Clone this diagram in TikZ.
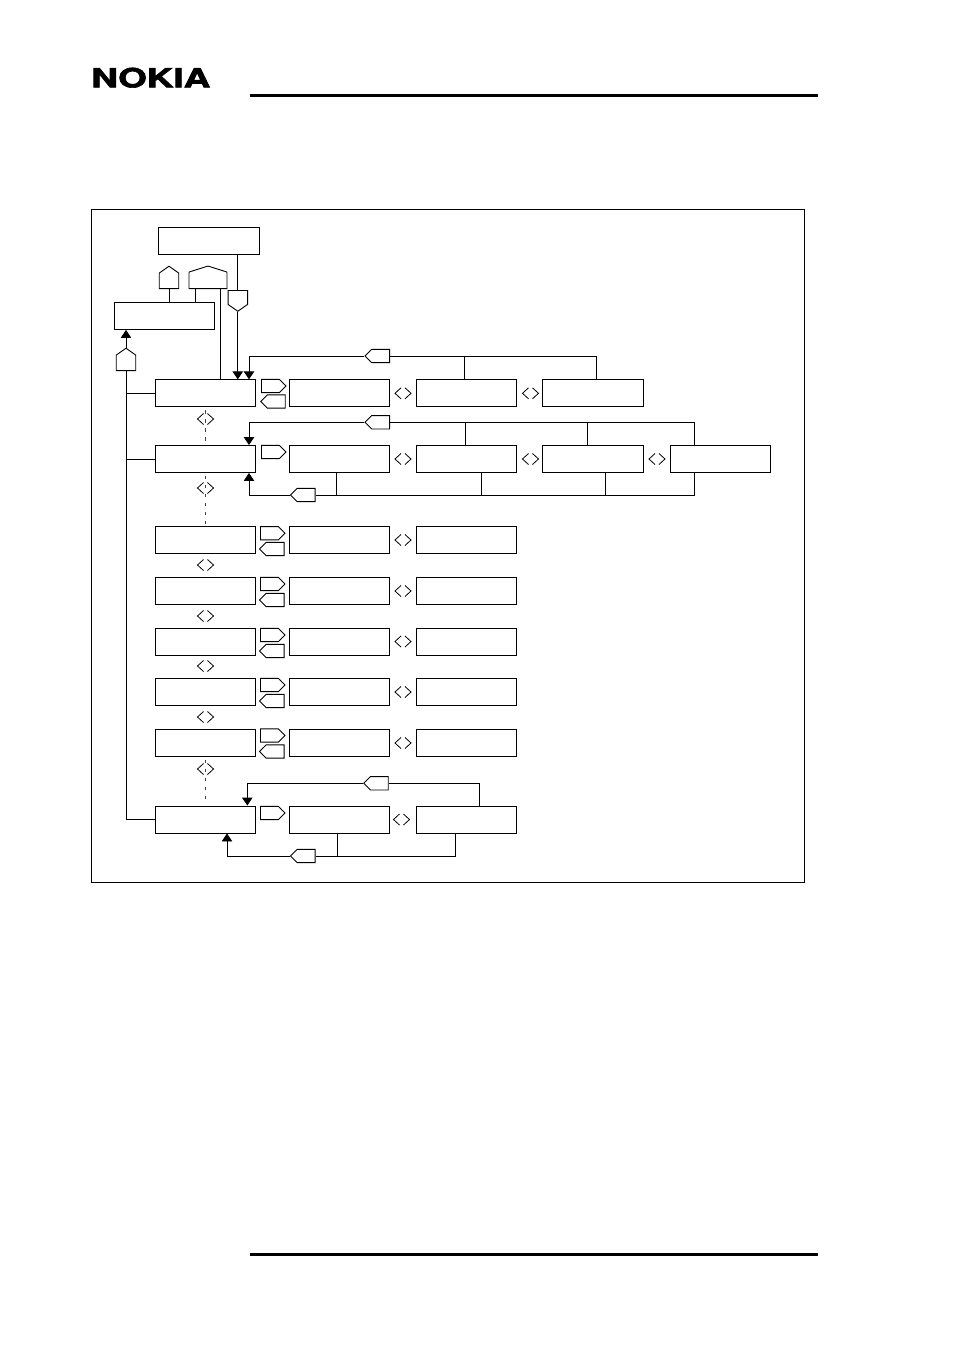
\documentclass[tikz,border=0pt]{standalone}
\usepackage{fontspec}
\newfontfamily\logofont[BoldFeatures={FakeBold=2.2}]{TeX Gyre Heros}
\usetikzlibrary{arrows.meta, shapes.symbols}
\tikzset{
    menubox/.style={draw, rectangle, inner sep=0pt, minimum width=100.7pt, minimum height=27pt},
    tagbox/.style={draw, signal, inner sep=0pt, signal pointer angle=90, minimum width=24.5pt, minimum height=13.3pt},
    uptag/.style={draw, signal, signal to=north, anchor=south, inner sep=0pt, signal pointer angle=110, minimum width=19.5pt, minimum height=15.5pt},
    hardrule/.style={line width=3pt},
    menuarrow/.style={-{Triangle[length=8pt,width=10.5pt]}},
    stepdash/.style={black!75, line width=1pt, dash pattern=on 3.5pt off 5.5pt, shorten <=3pt, shorten >=2pt},
    pics/swap/.style={code={
        \draw[line width=0.8pt] (-2,-5.5)--(-8,0)--(-2,5.5);
        \draw[line width=0.8pt] (2,-5.5)--(8,0)--(2,5.5);
    }}
}

\begin{document}
\begin{tikzpicture}[x=1pt, y=-1pt, every path/.style={line width=0.9pt}]
        \useasboundingbox (0,0) rectangle (954,1350);

        % ---------------- page furniture ----------------
        \node[font=\logofont\bfseries\fontsize{26.5}{26.5}\selectfont, xscale=1.39, inner sep=0pt] (logoText) at (150.8,77.7) {NOKIA};
        \coordinate (ruleTopL) at (250,95.5);
        \coordinate (ruleTopR) at (818,95.5);
        \coordinate (ruleBotL) at (250,1254);
        \coordinate (ruleBotR) at (818,1254);
        \draw[hardrule] (ruleTopL)--(ruleTopR);
        \draw[hardrule] (ruleBotL)--(ruleBotR);
        \draw (91.5,209.5) rectangle (804.5,882.5);

        % ---------------- boxes ----------------
        \node[menubox] (topBox) at (209,241) {};
        \node[menubox] (sideBox) at (164.5,316) {};
        \foreach \n/\y in {One/393.3,Two/459,Three/540,Four/591,Five/641.5,Six/692,Seven/743,Eight/819.5} {
            \node[menubox] (row\n Main) at (205.5,\y) {};
            \node[menubox] (row\n A) at (339.5,\y) {};
            \node[menubox] (row\n B) at (466.5,\y) {};
        }
        \node[menubox] (rowOneC) at (593,393.3) {};
        \node[menubox] (rowTwoC) at (593,459) {};
        \node[menubox] (rowTwoD) at (720.3,459) {};

        % Tags between main boxes and first submenu
        \foreach \n/\x/\y in {One/261/386,Two/261/452,Three/260/533.2,Four/260/584,Five/260/635,Six/260/685,Seven/260/735.5,Eight/260/813} {
            \node[tagbox, anchor=west] (in\n) at (\x,\y) {};
        }
        \foreach \n/\x/\y in {One/285.7/401.5,Three/284.5/549,Four/284.5/600,Five/284.5/651,Six/284.5/701,Seven/284.5/751.5} {
            \node[tagbox, signal to=west, anchor=east] (out\n) at (\x,\y) {};
        }

        % ---------------- top of the tree ----------------
        \node[uptag] (tagSide) at (169,289) {};
        \node[uptag, signal pointer angle=145, minimum width=38pt, minimum height=16.5pt] (tagWide) at (208,289) {};
        \node[uptag, signal to=south, anchor=north, minimum height=14pt] (tagDown) at (237.8,290) {};
        \node[uptag] (tagUp) at (126,371) {};
        \coordinate (dropSide) at (169,289);
        \coordinate (dropWide) at (195.5,289);
        \coordinate (dropReturn) at (220,289);
        \draw (tagSide.south)--(tagSide.south |- sideBox.north);
        \draw (dropWide)--(dropWide |- sideBox.north);
        \draw (dropReturn)--(dropReturn |- rowOneMain.north);
        \draw (tagDown.north |- topBox.south)--(tagDown.north);
        \draw[menuarrow] (tagDown.south)--(tagDown.south |- rowOneMain.north);
        \draw[menuarrow] (tagUp.north)--(tagUp.north |- sideBox.south);

        % Left trunk
        \draw (tagUp.south)--(tagUp.south |- rowEightMain.west)--(rowEightMain.west);
        \draw (tagUp.south |- rowOneMain.west)--(rowOneMain.west);
        \draw (tagUp.south |- rowTwoMain.west)--(rowTwoMain.west);

        % ---------------- row 1 return ----------------
        \node[tagbox, signal to=west, anchor=east] (backOne) at (390,356) {};
        \coordinate (cornerOne) at (249,356);
        \coordinate (joinOneB) at (464,356);
        \coordinate (joinOneC) at (596.5,356);
        \draw (backOne.east)--(joinOneC)--(joinOneC |- rowOneC.north);
        \draw (joinOneB)--(joinOneB |- rowOneB.north);
        \draw[menuarrow] (backOne.west)--(cornerOne)--(cornerOne |- rowOneMain.north);

        % ---------------- row 2 returns ----------------
        \node[tagbox, signal to=west, anchor=east] (backTwo) at (390,422.3) {};
        \coordinate (cornerTwo) at (249,422.3);
        \coordinate (joinTwoA) at (465.3,422.3);
        \coordinate (joinTwoB) at (587.5,422.3);
        \coordinate (joinTwoC) at (694.3,422.3);
        \draw (backTwo.east)--(joinTwoC)--(joinTwoC |- rowTwoD.north);
        \draw (joinTwoA)--(joinTwoA |- rowTwoB.north);
        \draw (joinTwoB)--(joinTwoB |- rowTwoC.north);
        \draw[menuarrow] (backTwo.west)--(cornerTwo)--(cornerTwo |- rowTwoMain.north);

        \node[tagbox, signal to=west, anchor=east] (leaveTwo) at (315.5,495) {};
        \coordinate (lowTwo) at (249,495);
        \coordinate (lowTwoA) at (336,495);
        \coordinate (lowTwoB) at (481,495);
        \coordinate (lowTwoC) at (605,495);
        \coordinate (lowTwoD) at (694.3,495);
        \draw (leaveTwo.east)--(lowTwoD)--(lowTwoD |- rowTwoD.south);
        \draw (lowTwoA)--(lowTwoA |- rowTwoA.south);
        \draw (lowTwoB)--(lowTwoB |- rowTwoB.south);
        \draw (lowTwoC)--(lowTwoC |- rowTwoC.south);
        \draw[menuarrow] (leaveTwo.west)--(lowTwo)--(lowTwo |- rowTwoMain.south);

        % ---------------- row 8 returns ----------------
        \node[tagbox, signal to=west, anchor=east] (backEight) at (388.7,783.3) {};
        \coordinate (cornerEight) at (247.3,783.3);
        \coordinate (joinEightB) at (479.3,783.3);
        \draw (backEight.east)--(joinEightB)--(joinEightB |- rowEightB.north);
        \draw[menuarrow] (backEight.west)--(cornerEight)--(cornerEight |- rowEightMain.north);

        \node[tagbox, signal to=west, anchor=east] (leaveEight) at (315.5,856) {};
        \coordinate (lowEight) at (227,856);
        \coordinate (lowEightA) at (337.3,856);
        \coordinate (lowEightB) at (455.3,856);
        \draw (leaveEight.east)--(lowEightB)--(lowEightB |- rowEightB.south);
        \draw (lowEightA)--(lowEightA |- rowEightA.south);
        \draw[menuarrow] (leaveEight.west)--(lowEight)--(lowEight |- rowEightMain.south);

        % ---------------- dotted links and swap marks ----------------
        \draw[stepdash] (rowOneMain.south)--(rowTwoMain.north);
        \draw[stepdash] (rowTwoMain.south)--(rowThreeMain.north);
        \draw[stepdash] (rowSevenMain.south)--(rowEightMain.north);
        \foreach \y in {419,488,565,616,666,717,769} {
            \pic at (205.5,\y) {swap};
        }
        \foreach \y in {393.3,459,540,591,641.5,692,743} {
            \pic at (403,\y) {swap};
        }
        \pic at (401.5,819.5) {swap};
        \foreach \y in {393.3,459} {
            \pic at (530.5,\y) {swap};
        }
        \pic at (657,459) {swap};
    \end{tikzpicture}
\end{document}
